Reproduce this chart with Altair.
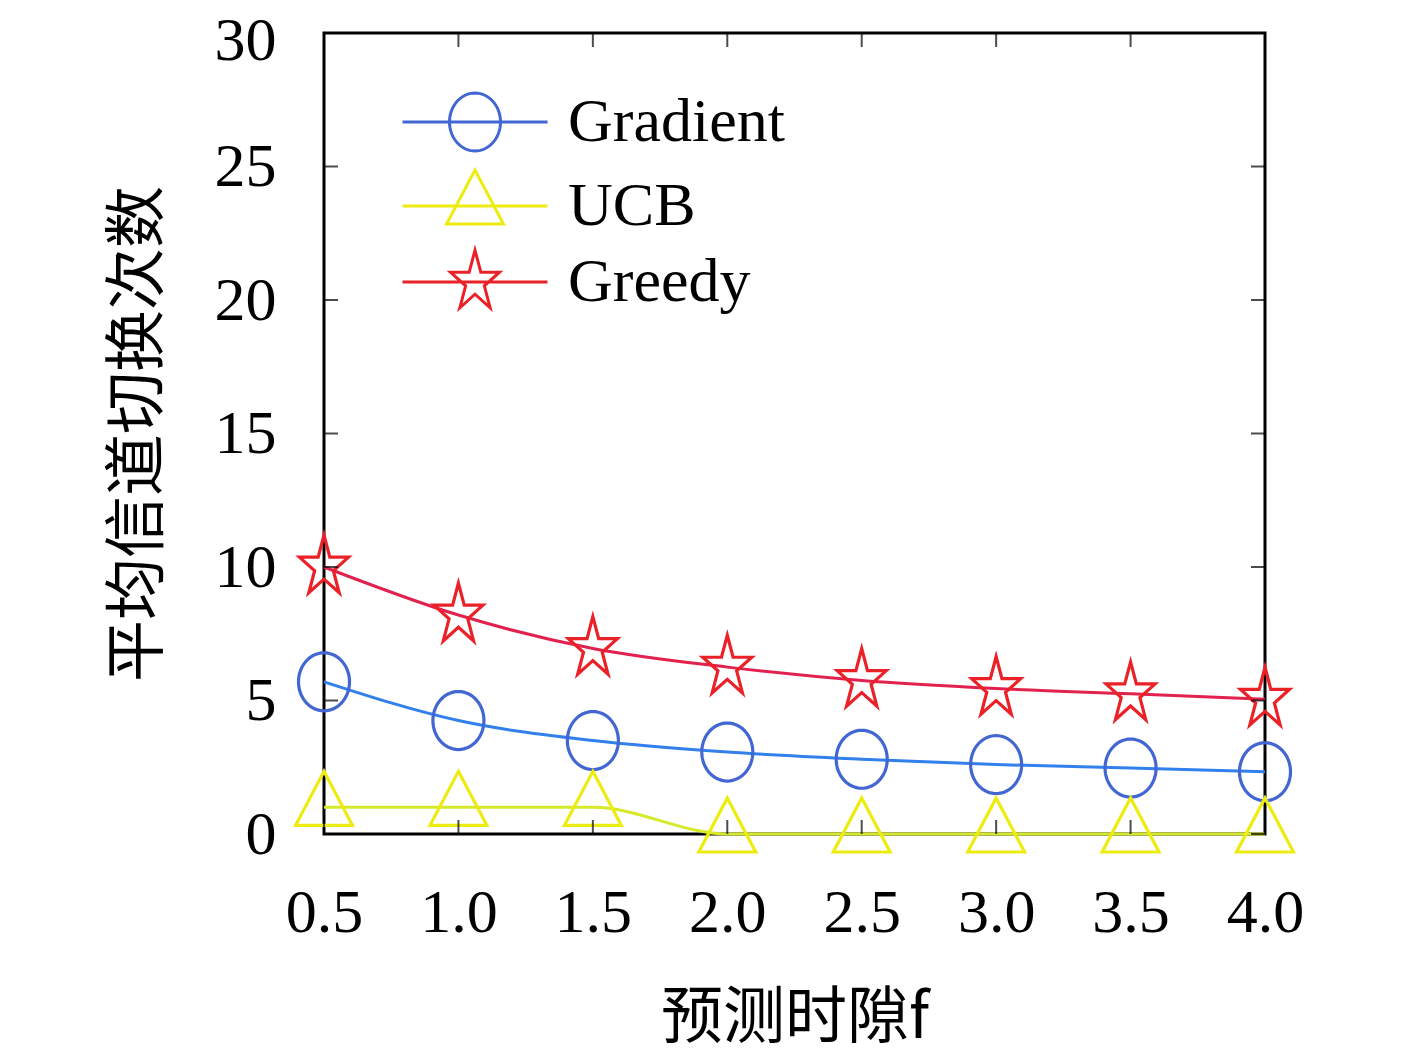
import math
import altair as alt
import pandas as pd

# ---------------- data ----------------
x_values = [0.5, 1.0, 1.5, 2.0, 2.5, 3.0, 3.5, 4.0]
gradient = [5.7, 4.25, 3.5, 3.07, 2.8, 2.6, 2.47, 2.33]
ucb = [1.0, 1.0, 1.0, 0.0, 0.0, 0.0, 0.0, 0.0]
greedy = [10.0, 8.2, 6.95, 6.25, 5.75, 5.45, 5.25, 5.05]
series_names = ["Gradient", "UCB", "Greedy"]
x_ticks = [0.5, 1.0, 1.5, 2.0, 2.5, 3.0, 3.5, 4.0]
y_ticks = [0, 5, 10, 15, 20, 25, 30]
x_title = "预测时隙f"
y_title = "平均信道切换次数"

rows = []
for name, vals in zip(series_names, [gradient, ucb, greedy]):
    for xv, yv in zip(x_values, vals):
        rows.append({"x": xv, "value": yv, "series": name})
df = pd.DataFrame(rows)
xt_df = pd.DataFrame({"t": x_ticks})
yt_df = pd.DataFrame({"t": y_ticks})

# ---------------- styles ----------------
line_colors = ["#3280ec", "#d6ea2a", "#e2224e"]
marker_colors = ["#4266d2", "#ecec10", "#ea2228"]


def poly(pts):
    return "M" + "L".join(f"{px:.3f},{py:.3f}" for px, py in pts) + "Z"


ellipse = poly([(0.88 * math.cos(2 * math.pi * k / 60), 1.0 * math.sin(2 * math.pi * k / 60)) for k in range(60)])
triangle = poly([(0, -1.24), (0.98, 0.62), (-0.98, 0.62)])
star_pts = []
for k in range(10):
    ang = math.radians(-90 + 36 * k)
    r = 1.0 if k % 2 == 0 else 0.382
    star_pts.append((0.89 * r * math.cos(ang), 1.1 * r * math.sin(ang)))
star = poly(star_pts)
marker_paths = [ellipse, triangle, star]
legend_paths = ["M-2.5,0L2.5,0" + p for p in marker_paths]

MSIZE = 3364
FONT_NUM = "Liberation Serif"
FONT_CJK = "Noto Sans CJK SC"

x_scale = alt.Scale(domain=[0.5, 4.0], nice=False, zero=False)
y_scale = alt.Scale(domain=[0, 30], nice=False)
x_axis = alt.Axis(values=x_ticks, format=".1f", title=x_title, labelPadding=48,
                  labelFlush=False, labelOverlap=False,
                  titleY=184, titleBaseline="middle")
y_axis = alt.Axis(values=y_ticks, title=y_title, labelPadding=48,
                  labelFlush=False, labelOverlap=False,
                  labelOffset={"condition": {"test": "datum.value == 30", "value": 7}, "value": 0},
                  titleX=-186, titleBaseline="middle")

x_enc = alt.X("x:Q", scale=x_scale, axis=x_axis)
y_enc = alt.Y("value:Q", scale=y_scale, axis=y_axis)

lines = alt.Chart(df).mark_line(interpolate="monotone", strokeWidth=3).encode(
    x=x_enc, y=y_enc,
    color=alt.Color("series:N", scale=alt.Scale(domain=series_names, range=line_colors), legend=None),
)

points = alt.Chart(df).mark_point(filled=False, strokeWidth=3.2, size=MSIZE, opacity=1).encode(
    x=x_enc, y=y_enc,
    color=alt.Color("series:N", scale=alt.Scale(domain=series_names, range=marker_colors), legend=None),
    shape=alt.Shape("series:N", scale=alt.Scale(domain=series_names, range=marker_paths), legend=None),
)

leg_props = dict(title=None, orient="none", legendX=120, legendY=58, symbolSize=MSIZE,
                 symbolStrokeWidth=3, labelOffset=62, rowPadding=7, labelFontSize=62,
                 labelFont=FONT_NUM, labelColor="black", labelLimit=0, padding=0)
legend_layer = alt.Chart(df).transform_filter("false").mark_point(filled=False, strokeWidth=3, opacity=1).encode(
    x=x_enc, y=y_enc,
    color=alt.Color("series:N", scale=alt.Scale(domain=series_names, range=marker_colors),
                    legend=alt.Legend(**leg_props)),
    shape=alt.Shape("series:N", scale=alt.Scale(domain=series_names, range=legend_paths),
                    legend=alt.Legend(**leg_props)),
)

TL = 14
tick_bottom = alt.Chart(xt_df).mark_tick(orient="vertical", size=TL, thickness=2, color="black", yOffset=-TL / 2).encode(
    x=alt.X("t:Q", scale=x_scale, axis=x_axis), y=alt.YDatum(0, scale=y_scale, axis=y_axis))
tick_top = alt.Chart(xt_df).mark_tick(orient="vertical", size=TL, thickness=2, color="black", yOffset=TL / 2).encode(
    x=alt.X("t:Q", scale=x_scale, axis=x_axis), y=alt.YDatum(30, scale=y_scale, axis=y_axis))
tick_left = alt.Chart(yt_df).mark_tick(orient="horizontal", size=TL, thickness=2, color="black", xOffset=TL / 2).encode(
    y=alt.Y("t:Q", scale=y_scale, axis=y_axis), x=alt.XDatum(0.5, scale=x_scale, axis=x_axis))
tick_right = alt.Chart(yt_df).mark_tick(orient="horizontal", size=TL, thickness=2, color="black", xOffset=-TL / 2).encode(
    y=alt.Y("t:Q", scale=y_scale, axis=y_axis), x=alt.XDatum(4.0, scale=x_scale, axis=x_axis))

chart = alt.layer(
    lines, points, legend_layer, tick_bottom, tick_top, tick_left, tick_right
).resolve_scale(
    color="independent", shape="independent"
).properties(
    width=941, height=801,
    autosize=alt.AutoSizeParams(type="none"),
    padding={"left": 316, "top": 25, "right": 120, "bottom": 218},
    background="white",
).configure_view(
    stroke="black", strokeWidth=3
).configure_axis(
    labelFont=FONT_NUM, labelFontSize=62, labelColor="black",
    titleFont=FONT_CJK, titleFontSize=62, titleFontWeight="normal", titleColor="black",
    ticks=False, domain=False, grid=False,
)

chart.save("out.html", embed_options={"renderer": "svg", "actions": False})
